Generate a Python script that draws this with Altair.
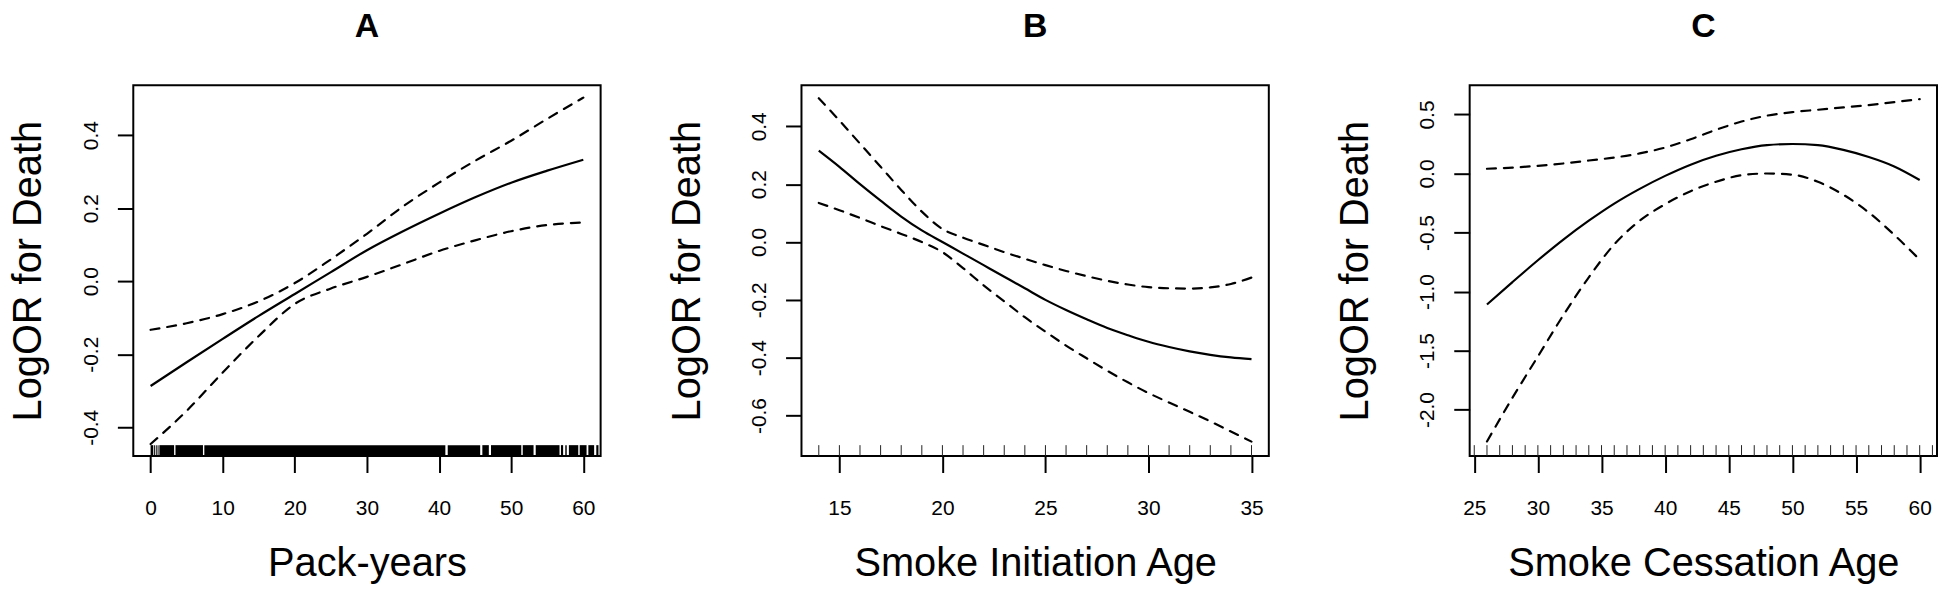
import altair as alt
import pandas as pd

FONT = "Liberation Sans"

# ---------------- Panel A : Pack-years ----------------
a_x = [0, 5, 10, 15, 20, 25, 30, 35, 40, 45, 50, 55, 60]
a_fit = [-0.287, -0.222, -0.158, -0.095, -0.035, 0.025, 0.085, 0.137, 0.185, 0.230, 0.270, 0.303, 0.333]
a_upper = [-0.133, -0.115, -0.090, -0.055, -0.005, 0.060, 0.130, 0.205, 0.270, 0.330, 0.385, 0.445, 0.503]
a_lower = [-0.446, -0.355, -0.250, -0.150, -0.062, -0.020, 0.012, 0.047, 0.083, 0.112, 0.137, 0.154, 0.161]
a_rug_start = [0.0, 0.48, 0.72, 0.97, 1.22, 3.45, 7.45, 41.2, 46.0, 47.2, 51.6, 53.4, 56.9, 57.5, 58.0, 59.5, 60.7, 61.8]
a_rug_end = [0.37, 0.6, 0.85, 1.1, 3.26, 7.26, 40.87, 45.7, 46.9, 51.4, 53.1, 56.7, 57.2, 57.7, 59.3, 60.45, 61.5, 62.1]
a_xticks = [0, 10, 20, 30, 40, 50, 60]
a_yticks = [-0.4, -0.2, 0.0, 0.2, 0.4]

# ---------------- Panel B : Smoke initiation age ----------------
b_x = [14, 15, 16, 17, 18, 19, 20, 21, 22, 23, 24, 25, 26, 27, 28, 29, 30, 31, 32, 33, 34, 35]
b_fit = [0.316, 0.26, 0.20, 0.143, 0.088, 0.04, 0.0, -0.04, -0.08, -0.12, -0.16, -0.20, -0.235, -0.267,
         -0.297, -0.322, -0.345, -0.363, -0.378, -0.39, -0.399, -0.405]
b_upper = [0.497, 0.42, 0.34, 0.26, 0.18, 0.105, 0.045, 0.015, -0.01, -0.035, -0.058, -0.08, -0.10, -0.118,
           -0.134, -0.147, -0.156, -0.16, -0.161, -0.157, -0.145, -0.123]
b_lower = [0.135, 0.11, 0.083, 0.055, 0.028, 0.0, -0.035, -0.09, -0.15, -0.205, -0.26, -0.31, -0.358, -0.402,
           -0.445, -0.485, -0.522, -0.555, -0.587, -0.62, -0.655, -0.69]
b_rug = [14, 15, 16, 17, 18, 19, 20, 21, 22, 23, 24, 25, 26, 27, 28, 29, 30, 31, 32, 33, 34, 35]
b_xticks = [15, 20, 25, 30, 35]
b_yticks = [-0.6, -0.4, -0.2, 0.0, 0.2, 0.4]

# ---------------- Panel C : Smoke cessation age ----------------
c_x = [26, 28, 30, 32, 34, 36, 38, 40, 42, 44, 46, 48, 50, 52, 54, 56, 58, 60]
c_fit = [-1.11, -0.92, -0.735, -0.56, -0.40, -0.255, -0.13, -0.02, 0.075, 0.15, 0.205, 0.24, 0.25, 0.24,
         0.20, 0.14, 0.06, -0.055]
c_upper = [0.04, 0.05, 0.065, 0.085, 0.11, 0.135, 0.17, 0.22, 0.29, 0.37, 0.44, 0.49, 0.52, 0.54, 0.56,
           0.58, 0.605, 0.63]
c_lower = [-2.27, -1.90, -1.55, -1.20, -0.88, -0.60, -0.40, -0.26, -0.15, -0.07, -0.015, 0.0, -0.01, -0.07,
           -0.18, -0.33, -0.52, -0.73]
c_rug = [25, 26, 27, 28, 29, 30, 31, 32, 33, 34, 35, 36, 37, 38, 39, 40, 41, 42, 43, 44, 45, 46, 47, 48,
         49, 50, 51, 52, 53, 54, 55, 56, 57, 58, 59, 60, 61]
c_xticks = [25, 30, 35, 40, 45, 50, 55, 60]
c_yticks = [-2.0, -1.5, -1.0, -0.5, 0.0, 0.5]

W, H = 470, 373


def lines_df(xs, fit, upper, lower):
    rows = []
    for name, ys in (("fit", fit), ("upper", upper), ("lower", lower)):
        for x, y in zip(xs, ys):
            rows.append({"x": x, "y": y, "band": name})
    return pd.DataFrame(rows)


def panel(title, xlabel, xs, fit, upper, lower, xdom, ydom, xticks, yticks, title_x, rug_layer_fn):
    df = lines_df(xs, fit, upper, lower)
    xscale = alt.Scale(domain=xdom, nice=False, zero=False)
    yscale = alt.Scale(domain=ydom, nice=False, zero=False)
    xaxis = alt.Axis(
        values=xticks, format="d", title=xlabel, labelFontSize=21, labelFont=FONT,
        labelColor="black", labelPadding=25, labelFlush=False, labelOverlap=False,
        tickSize=16.5, tickWidth=2, tickColor="black", domain=False, grid=False,
        titleFontSize=40, titleFont=FONT, titleFontWeight="normal", titleColor="black",
        titleY=120, titleBaseline="alphabetic",
    )
    yaxis = alt.Axis(
        values=yticks, title="LogOR for Death",
        labelExpr="datum.value < 0 ? '-' + format(-datum.value, '.1f') : format(datum.value, '.1f')",
        labelAngle=270, labelAlign="center", labelBaseline="alphabetic", labelPadding=20,
        labelFontSize=21, labelFont=FONT, labelColor="black", labelFlush=False, labelOverlap=False,
        tickSize=16, tickWidth=2, tickColor="black", domain=False, grid=False,
        titleFontSize=40, titleFont=FONT, titleFontWeight="normal", titleColor="black",
        titleAngle=270, titleBaseline="alphabetic", titleAlign="center", titleX=title_x, titleY=H / 2,
    )
    base = alt.Chart(df).encode(
        x=alt.X("x:Q", scale=xscale, axis=xaxis),
        y=alt.Y("y:Q", scale=yscale, axis=yaxis),
    )
    solid = base.transform_filter(alt.datum.band == "fit").mark_line(
        color="black", strokeWidth=2.2, interpolate="monotone")
    dashed = base.transform_filter(alt.datum.band != "fit").mark_line(
        color="black", strokeWidth=2.2, interpolate="monotone", strokeDash=[9, 8], strokeCap="round"
    ).encode(detail="band:N")
    rug = rug_layer_fn(xscale)
    return alt.layer(solid, dashed, rug).properties(
        width=W, height=H,
        title=alt.TitleParams(title, fontSize=34, fontWeight="bold", font=FONT, color="black",
                              baseline="alphabetic", offset=14, anchor="middle"),
    )


def rug_rects(starts, ends):
    def fn(xscale):
        d = pd.DataFrame({"s": starts, "e": ends})
        return alt.Chart(d).mark_rect(color="black").encode(
            x=alt.X("s:Q", scale=xscale), x2="e:Q",
            y=alt.value(H - 11), y2=alt.value(H))
    return fn


def rug_rules(vals):
    def fn(xscale):
        d = pd.DataFrame({"r": vals})
        return alt.Chart(d).mark_rule(color="#222", strokeWidth=1).encode(
            x=alt.X("r:Q", scale=xscale), y=alt.value(H - 11), y2=alt.value(H))
    return fn


pa = panel("A", "Pack-years", a_x, a_fit, a_upper, a_lower, [-2.4, 62.4], [-0.479, 0.537],
           a_xticks, a_yticks, -93, rug_rects(a_rug_start, a_rug_end))
pb = panel("B", "Smoke Initiation Age", b_x, b_fit, b_upper, b_lower, [13.16, 35.84], [-0.74, 0.542],
           b_xticks, b_yticks, -102.4, rug_rules(b_rug))
pc = panel("C", "Smoke Cessation Age", c_x, c_fit, c_upper, c_lower, [24.64, 61.36], [-2.394, 0.748],
           c_xticks, c_yticks, -102.4, rug_rules(c_rug))

chart = alt.hconcat(pa, pb, pc, spacing=65).properties(
    padding={"left": 0, "top": 0, "right": 0, "bottom": 0}
).configure(background="white").configure_view(stroke="black", strokeWidth=2)

chart.save("out.html", embed_options={"renderer": "svg", "actions": False})
